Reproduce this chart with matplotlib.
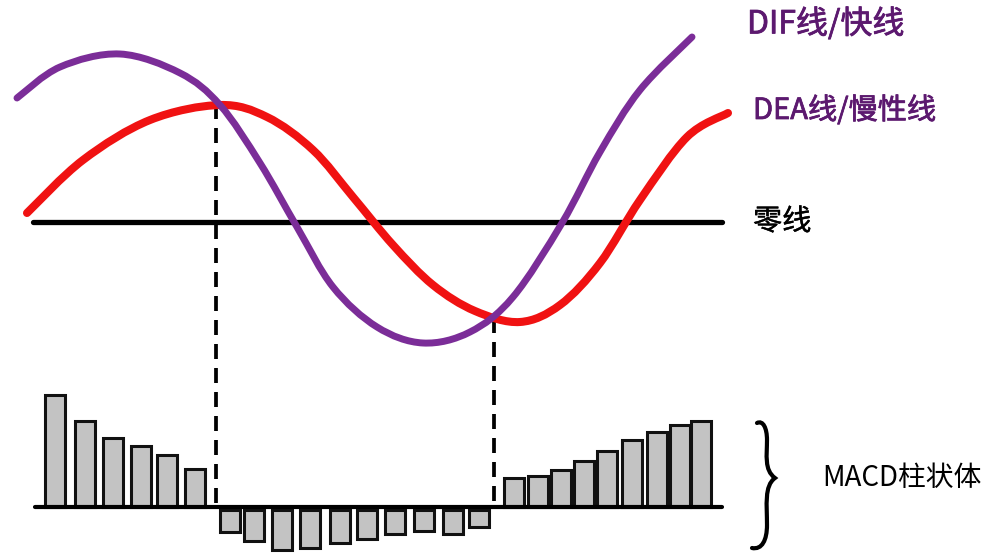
import matplotlib
matplotlib.use("Agg")
import matplotlib.pyplot as plt
from matplotlib.path import Path
from matplotlib.patches import PathPatch
import matplotlib.patheffects as pe

plt.rcParams['font.family'] = ['Noto Sans CJK SC', 'DejaVu Sans']

# ---- data (screen-like units: x right, y down) ----
dif_x = [17, 60, 120, 180, 220, 260, 297, 333, 377, 423, 470, 513, 562, 600, 640, 692]
dif_y = [98, 67, 54, 73, 105, 163, 227, 287, 327, 343, 332, 297, 223, 152, 90, 37]

dea_x = [27, 83, 150, 220, 267, 313, 353, 393, 433, 475, 520, 560, 600, 640, 687, 728]
dea_y = [213, 160, 120, 105, 117, 150, 197, 245, 285, 311, 322, 305, 263, 200, 137, 113]

zero_y = 222
zero_x = [33, 722]

bar_x = [55, 85, 113, 141, 167, 195, 230, 254, 282, 310, 340, 367, 395, 424, 453, 479,
         514, 538, 561, 584, 607, 632, 657, 680, 701]
bar_h = [112, 86, 69, 61, 52, 38, -25, -34, -43, -41, -36, -32, -27, -24, -27, -20,
         29, 31, 37, 46, 56, 67, 75, 82, 86]
bar_base = 507
bar_axis_x = [35, 722]

cross_x = [216, 494]
cross_y = [104, 318]

labels = ["DIF线/快线", "DEA线/慢性线", "零线", "MACD柱状体"]


def smooth_path(xs, ys):
    """Cubic Bezier path passing through every read point (Catmull-Rom tangents)."""
    pts = list(zip(xs, ys))
    n = len(pts)
    verts = [pts[0]]
    codes = [Path.MOVETO]
    for i in range(n - 1):
        p0 = pts[i - 1] if i > 0 else pts[i]
        p1 = pts[i]
        p2 = pts[i + 1]
        p3 = pts[i + 2] if i + 2 < n else pts[i + 1]
        c1 = (p1[0] + (p2[0] - p0[0]) / 6.0, p1[1] + (p2[1] - p0[1]) / 6.0)
        c2 = (p2[0] - (p3[0] - p1[0]) / 6.0, p2[1] - (p3[1] - p1[1]) / 6.0)
        verts += [c1, c2, p2]
        codes += [Path.CURVE4] * 3
    return Path(verts, codes)


# ---- figure ----
fig = plt.figure(figsize=(10, 5.56), dpi=100)
ax = fig.add_axes([0, 0, 1, 1])
ax.set_xlim(0, 1000)
ax.set_ylim(556, 0)
ax.axis('off')

purple = '#7b2d98'
red = '#f01212'
label_purple = '#5c196f'

# zero line
ax.plot(zero_x, [zero_y, zero_y], color='black', lw=3.8, solid_capstyle='round', zorder=2)

# dashed cross lines
for cx, cy in zip(cross_x, cross_y):
    ax.plot([cx, cx], [cy, bar_base], color='black', lw=2.7, dashes=(4.0, 2.4), zorder=1)

# curves
ax.add_patch(PathPatch(smooth_path(dea_x, dea_y), fill=False, edgecolor=red, lw=5.8,
                       capstyle='round', joinstyle='round', zorder=3))
ax.add_patch(PathPatch(smooth_path(dif_x, dif_y), fill=False, edgecolor=purple, lw=5.0,
                       capstyle='round', joinstyle='round', zorder=4))

# histogram bars
for bx, bh in zip(bar_x, bar_h):
    if bh > 0:
        ax.bar(bx, -bh, width=20, bottom=bar_base, color='#c3c3c3', edgecolor='#111111',
               linewidth=2.2, zorder=3)
    else:
        ax.bar(bx, -bh - 3, width=20, bottom=bar_base + 3, color='#c3c3c3', edgecolor='#111111',
               linewidth=2.2, zorder=3)
ax.plot(bar_axis_x, [bar_base, bar_base], color='black', lw=3.0, solid_capstyle='round', zorder=4)

# brace
verts = [(757, 423),
         (763, 420), (767, 428), (767, 440),
         (767, 455), (764, 470), (775, 478),
         (764, 486), (767, 505), (767, 525),
         (767, 540), (762, 550), (752, 548)]
codes = [Path.MOVETO] + [Path.CURVE4] * 12
ax.add_patch(PathPatch(Path(verts, codes), fill=False, lw=3.0, edgecolor='black',
                       capstyle='round', zorder=3))

# labels
thick_p = [pe.withStroke(linewidth=0.55, foreground=label_purple)]
ax.text(747, 24, labels[0], color=label_purple, fontsize=23,
        ha='left', va='center', path_effects=thick_p)
ax.text(753, 111, labels[1], color=label_purple, fontsize=21,
        ha='left', va='center', path_effects=thick_p)
ax.text(753, 222, labels[2], color='black', fontsize=21, ha='left', va='center',
        path_effects=[pe.withStroke(linewidth=0.3, foreground='black')])
ax.text(822, 478, labels[3], color='black', fontsize=20, ha='left', va='center')

fig.savefig('out.png', dpi=100)
